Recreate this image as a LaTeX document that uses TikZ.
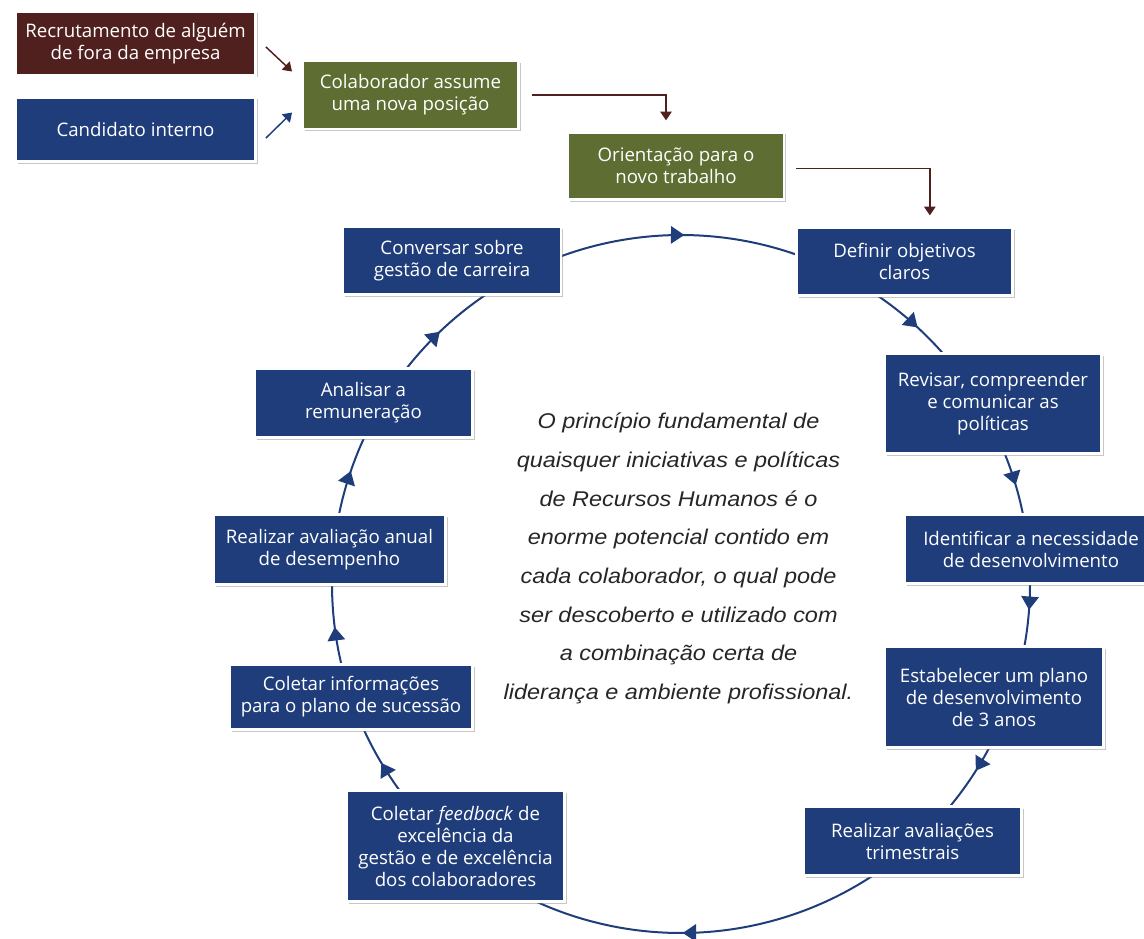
\documentclass[tikz,border=0pt]{standalone}
\usepackage{fontspec}
\setmainfont{Open Sans}
\newfontfamily\quotefont[FakeStretch=1.1]{Liberation Sans}
\usepackage{tikz}
\usetikzlibrary{backgrounds}
\usetikzlibrary{shadows}
\usetikzlibrary{arrows.meta}
\usetikzlibrary{decorations.markings}
\definecolor{hrblue}{RGB}{31,61,122}
\definecolor{hrbrown}{RGB}{80,32,30}
\definecolor{hrgreen}{RGB}{94,110,50}
\tikzstyle{box}=[rectangle, draw=white, line width=2.2pt, inner sep=0pt, text=white, align=center, font=\fontsize{14}{16.5}\selectfont, drop shadow={shadow xshift=1.5pt, shadow yshift=-1.5pt, opacity=0.45}]
\tikzstyle{bluebox}=[box, fill=hrblue]
\tikzstyle{brownbox}=[box, fill=hrbrown]
\tikzstyle{greenbox}=[box, fill=hrgreen]
\tikzstyle{quote}=[align=center, inner sep=0pt, text=black!85, font=\quotefont\itshape\fontsize{16}{29}\selectfont]
\tikzstyle{ring}=[draw=hrblue, line width=1.5pt]
\tikzstyle{elbow}=[draw=hrbrown, line width=1.1pt, -{Triangle[width=8.5pt,length=6.5pt]}]
\tikzset{dims/.style 2 args={minimum width=(#1-3)*0.75pt, minimum height=(#2-3)*0.75pt},
  ringarrow/.style={postaction=decorate, decoration={markings, mark=at position #1 with {\arrow{Triangle[width=13pt,length=10pt]}}}}}

\begin{document}
\begin{tikzpicture}[x=0.75pt, y=-0.75pt]
	\useasboundingbox (0,0) rectangle (1144,938);
	% entry into the position
	\draw (135.5,43.5) node[brownbox, dims={243}{67}] (rec) {Recrutamento de alguém\\ de fora da empresa};
	\draw (135.5,129.5) node[bluebox, dims={243}{67}] (cand) {Candidato interno};
	\draw (410.5,95) node[greenbox, dims={219}{71}] (col) {Colaborador assume\\ uma nova posição};
	\draw (676,166) node[greenbox, dims={219}{70}] (ori) {Orientação para o\\ novo trabalho};
	% the cycle
	\coordinate (hub) at (681,584);
	\draw (904.5,261.5) node[bluebox, dims={219}{71}] (def) {Definir objetivos\\ claros};
	\draw (993,403.5) node[bluebox, dims={220}{103}] (rev) {Revisar, compreender\\ e comunicar as\\ políticas};
	\draw (1031,549) node[bluebox, dims={256}{72}] (ident) {Identificar a necessidade\\ de desenvolvimento};
	\draw (994,697) node[bluebox, dims={222}{104}] (est) {Estabelecer um plano\\ de desenvolvimento\\ de 3 anos};
	\draw (912.5,841) node[bluebox, dims={221}{72}] (tri) {Realizar avaliações\\ trimestrais};
	\draw (455.5,846) node[bluebox, dims={221}{114}] (feed) {Coletar \textit{feedback} de\\ excelência da\\ gestão e de excelência\\ dos colaboradores};
	\draw (351,697) node[bluebox, dims={246}{68}] (info) {Coletar informações\\ para o plano de sucessão};
	\draw (329.5,549.5) node[bluebox, dims={235}{73}] (anual) {Realizar avaliação anual\\ de desempenho};
	\draw (363.5,403) node[bluebox, dims={221}{72}] (anal) {Analisar a\\ remuneração};
	\draw (452,260.5) node[bluebox, dims={221}{71}] (conv) {Conversar sobre\\ gestão de carreira};
	\draw (678.5,558.5) node[quote] (motto) {O princípio fundamental de\\ quaisquer iniciativas e políticas\\ de Recursos Humanos é o\\ enorme potencial contido em\\ cada colaborador, o qual pode\\ ser descoberto e utilizado com\\ a combinação certa de\\ liderança e ambiente profissional.};
	% arrows
	\draw[elbow] ([shift={(9,3.5)}]rec.east) -- ([shift={(-9,-23.5)}]col.west);
	\draw[elbow, draw=hrblue] ([shift={(9,8.5)}]cand.east) -- ([shift={(-9,17.5)}]col.west);
	\draw[elbow] ([xshift=9pt]col.east) -| ([xshift=-7.5pt, yshift=8pt]ori.north);
	\draw[elbow] ([xshift=8pt, yshift=-2pt]ori.east) -| ([xshift=19pt, yshift=8pt]def.north);
	\begin{scope}[on background layer]
	\foreach \a/\b/\p in {-117/-63/0.51, -63/-31/0.49, -31/-6/0.58, -6/19/0.41, 19/48/0.46, 48/129/0.515, 129/161/0.63, 161/186/0.476, 186/211/0.516, 211/243/0.478}
		\draw[ring, ringarrow=\p] ([shift={(\a:349)}]hub) arc[start angle=\a, end angle=\b, radius=349];
	\end{scope}
\end{tikzpicture}
\end{document}
